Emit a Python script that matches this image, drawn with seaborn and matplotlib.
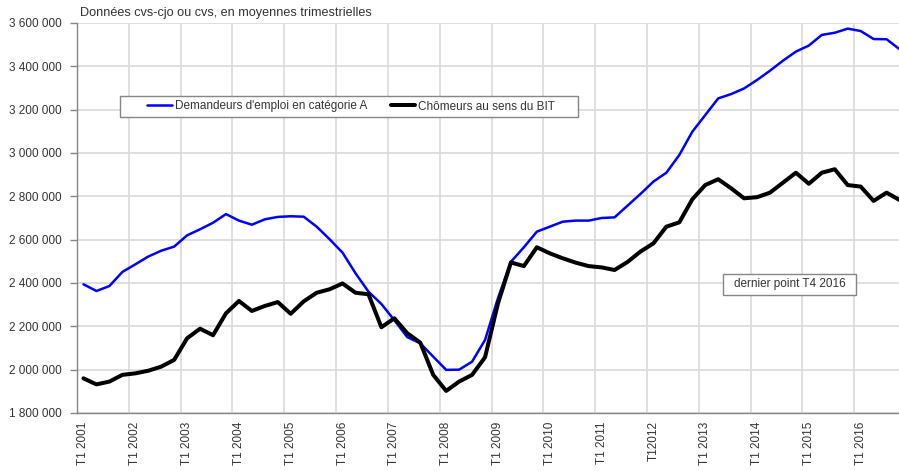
import numpy as np
import pandas as pd
import matplotlib
matplotlib.use("Agg")
import matplotlib.pyplot as plt
from matplotlib.patches import Rectangle
from matplotlib.ticker import FuncFormatter, FixedLocator
import seaborn as sns

# quarterly values, T1 2001 .. T4 2016
years = list(range(2001, 2017))
year_labels = ["T1 %d" % y for y in years]
year_labels[years.index(2012)] = "T12012"

demandeurs_a = [
    2394000, 2363000, 2386000, 2451000, 2486000, 2522000, 2549000, 2568000,
    2620000, 2648000, 2678000, 2718000, 2688000, 2669000, 2694000, 2705000,
    2708000, 2706000, 2660000, 2602000, 2540000, 2445000, 2360000, 2303000,
    2228000, 2150000, 2122000, 2060000, 1999000, 2000000, 2037000, 2137000,
    2330000, 2498000, 2565000, 2637000, 2660000, 2683000, 2688000, 2688000,
    2700000, 2703000, 2757000, 2811000, 2868000, 2909000, 2991000, 3098000,
    3175000, 3252000, 3272000, 3298000, 3337000, 3380000, 3426000, 3468000,
    3496000, 3545000, 3555000, 3574000, 3563000, 3526000, 3525000, 3479000,
]
chomeurs_bit = [
    1960000, 1932000, 1945000, 1976000, 1983000, 1995000, 2014000, 2045000,
    2145000, 2189000, 2159000, 2260000, 2317000, 2271000, 2294000, 2312000,
    2258000, 2315000, 2355000, 2371000, 2398000, 2355000, 2348000, 2196000,
    2237000, 2168000, 2125000, 1976000, 1902000, 1945000, 1976000, 2057000,
    2306000, 2495000, 2478000, 2565000, 2537000, 2514000, 2494000, 2478000,
    2472000, 2460000, 2497000, 2545000, 2583000, 2660000, 2680000, 2786000,
    2852000, 2879000, 2837000, 2791000, 2796000, 2817000, 2863000, 2909000,
    2858000, 2909000, 2925000, 2852000, 2845000, 2779000, 2817000, 2783000,
]
serie_a = "Demandeurs d'emploi en catégorie A"
serie_bit = "Chômeurs au sens du BIT"

n = len(demandeurs_a)
df = pd.DataFrame({
    "q": list(range(n)) * 2,
    "valeur": demandeurs_a + chomeurs_bit,
    "serie": [serie_a] * n + [serie_bit] * n,
})

sns.set_style("white")
plt.rcParams["font.family"] = ["Liberation Sans", "DejaVu Sans"]
txt = "#333333"

fig = plt.figure(figsize=(8.99, 4.71), dpi=100)
ax = fig.add_axes([77 / 899, 1 - 413 / 471, 829 / 899, 390 / 471])

sns.lineplot(data=df, x="q", y="valeur", hue="serie", size="serie",
             palette={serie_a: "#0000ff", serie_bit: "#000000"},
             sizes={serie_a: 1.8, serie_bit: 2.9},
             ax=ax, legend=False)

ax.set_xlim(-0.5, n - 0.5)
ax.set_ylim(1800000, 3600000)
ax.set_yticks(np.arange(1800000, 3600001, 200000))
ax.yaxis.set_major_formatter(FuncFormatter(lambda v, p: f"{v:,.0f}".replace(",", " ")))
ax.set_xlabel("")
ax.set_ylabel("")

# gridlines between categories, labels on first quarter of each year
ax.xaxis.set_major_locator(FixedLocator(np.arange(-0.5, n, 4)))
ax.xaxis.set_minor_locator(FixedLocator(np.arange(0, n, 4)))
ax.set_xticklabels([""] * len(ax.get_xticks()))
ax.set_xticklabels(year_labels, minor=True, rotation=90, va="top", ha="center")
ax.tick_params(axis="x", which="major", length=4, width=1, color="#868686")
ax.tick_params(axis="x", which="minor", length=0, pad=6, labelsize=8.5, labelcolor=txt)
ax.tick_params(axis="y", length=5, width=1, color="#868686", pad=6,
               labelsize=8.5, labelcolor=txt, left=True)

ax.grid(True, which="major", color="#d9d9d9", lw=1.2)
ax.set_axisbelow(True)
for s in ["top", "right"]:
    ax.spines[s].set_visible(False)
for s in ["left", "bottom"]:
    ax.spines[s].set_color("#868686")
    ax.spines[s].set_linewidth(1)

# legend box
ax.add_patch(Rectangle((43 / 829, 1 - 94 / 390), 458 / 829, 21 / 390,
                       transform=ax.transAxes, facecolor="white",
                       edgecolor="#868686", lw=1, zorder=4, clip_on=False))
handles = [plt.Line2D([], [], color="#0000ff", lw=1.8),
           plt.Line2D([], [], color="#000000", lw=2.9)]
leg = ax.legend(handles, [serie_a, serie_bit], ncol=2, frameon=False,
                loc="center", bbox_to_anchor=(274 / 829, 1 - 83.5 / 390),
                fontsize=8.5, handlelength=2.1, handletextpad=0.2,
                columnspacing=2.0, borderpad=0, borderaxespad=0)
leg.set_zorder(5)
for t in leg.get_texts():
    t.set_color(txt)

# note box
ax.add_patch(Rectangle((646 / 829, 1 - 272 / 390), 133 / 829, 21 / 390,
                       transform=ax.transAxes, facecolor="white",
                       edgecolor="#868686", lw=1, zorder=4))
ax.text(712.5 / 829, 1 - 261.5 / 390, "dernier point T4 2016", transform=ax.transAxes,
        ha="center", va="center", fontsize=8.5, color=txt, zorder=5)

fig.text(80 / 899, 1 - 13 / 471, "Données cvs-cjo ou cvs, en moyennes trimestrielles",
         ha="left", va="center", fontsize=9.1, color=txt)

fig.savefig("out.png", dpi=100)
